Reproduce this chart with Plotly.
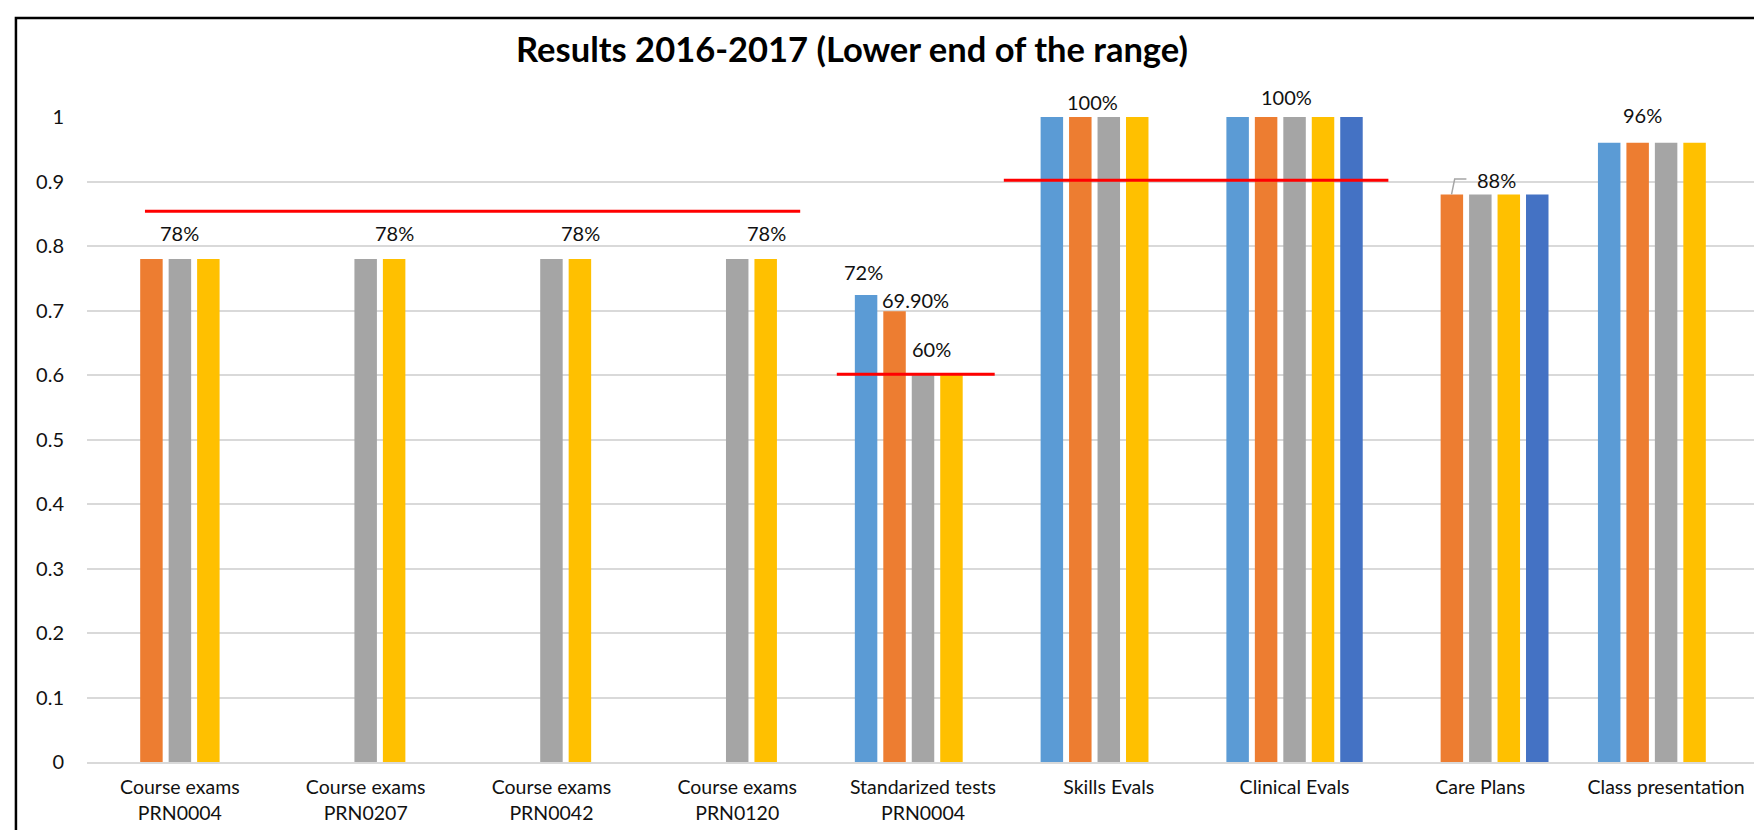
import plotly.graph_objects as go

categories = ["Course exams<br>PRN0004", "Course exams<br>PRN0207", "Course exams<br>PRN0042",
              "Course exams<br>PRN0120", "Standarized tests<br>PRN0004", "Skills Evals",
              "Clinical Evals", "Care Plans", "Class presentation"]

series_a = [None, None, None, None, 0.724, 1.0, 1.0, None, 0.96]
series_b = [0.78, None, None, None, 0.699, 1.0, 1.0, 0.88, 0.96]
series_c = [0.78, 0.78, 0.78, 0.78, 0.60, 1.0, 1.0, 0.88, 0.96]
series_d = [0.78, 0.78, 0.78, 0.78, 0.60, 1.0, 1.0, 0.88, 0.96]
series_e = [None, None, None, None, None, None, 1.0, 0.88, None]

# data labels: (category index, value the label refers to, text)
label_cats = [0, 1, 2, 3, 4, 4, 4, 5, 6, 7, 8]
label_vals = [0.78, 0.78, 0.78, 0.78, 0.724, 0.699, 0.60, 1.0, 1.0, 0.88, 0.96]
label_texts = ["78%", "78%", "78%", "78%", "72%", "69.90%", "60%", "100%", "100%", "88%", "96%"]

# target (benchmark) lines: value and span of categories
target_vals = [0.854, 0.601, 0.902]
target_from = [0, 4, 5]
target_to = [3, 4, 6]

colors = ["#5B9BD5", "#ED7D31", "#A5A5A5", "#FFC000", "#4472C4"]
FONT = "Lato"

fig = go.Figure()
for vals, col in zip([series_a, series_b, series_c, series_d, series_e], colors):
    fig.add_trace(go.Bar(x=categories, y=vals, marker=dict(color=col, line=dict(width=0)),
                         showlegend=False))

# label pixel offsets (layout only)
xshifts = [0, 29, 29, 29, -60, -8, 8, -16, -8, 16, -24]
yshifts = [26, 26, 26, 26, 23, 11, 26, 15, 20, 14, 28]
for c, v, t, dx, dy in zip(label_cats, label_vals, label_texts, xshifts, yshifts):
    fig.add_annotation(x=categories[c], y=v, text=t, showarrow=False, xshift=dx, yshift=dy,
                       xanchor="center", yanchor="middle",
                       font=dict(family=FONT, size=20, color="#111111"))

# leader line for the 88% label (from orange bar top)
fig.add_shape(type="path", xref="x", yref="y",
              path="M 6.845,0.88 L 6.862,0.904 L 6.925,0.904",
              line=dict(color="#A5A5A5", width=1.5))

# red target lines
ext_l = [-0.188, -0.464, -0.565]
ext_r = [0.339, 0.386, 0.505]
for v, a, b, l, r in zip(target_vals, target_from, target_to, ext_l, ext_r):
    fig.add_shape(type="line", xref="x", yref="y", x0=a + l, x1=b + r, y0=v, y1=v,
                  line=dict(color="#FF0000", width=3))

# chart border
fig.add_shape(type="rect", xref="paper", yref="paper", x0=-0.0425, x1=1.2, y0=-0.3, y1=1.1535,
              line=dict(color="#000000", width=2.5), layer="above")

fig.update_layout(
    width=1762, height=830,
    margin=dict(l=79, r=11, t=109, b=76),
    paper_bgcolor="white", plot_bgcolor="white",
    barmode="group", bargap=0.234, bargroupgap=0.21,
    title=dict(text="<b>Results 2016-2017 (Lower end of the range)</b>",
               x=844 / 1762, xanchor="center", xref="container",
               y=1 - 42 / 830, yanchor="middle", yref="container",
               font=dict(family=FONT, size=34.5, color="#000000")),
    font=dict(family=FONT, color="#111111"),
    xaxis=dict(showgrid=False, showline=True, linecolor="#D9D9D9", linewidth=2,
               tickfont=dict(family=FONT, size=19.5, color="#111111"), ticks="",
               ticklabelstandoff=7),
    yaxis=dict(range=[0, 1], dtick=0.1, tick0=0, showgrid=True, gridcolor="#D9D9D9",
               gridwidth=2, zeroline=False, showline=False, ticks="",
               tickfont=dict(family=FONT, size=20, color="#111111"),
               ticklabelstandoff=22),
)

fig.write_html("out.html")
